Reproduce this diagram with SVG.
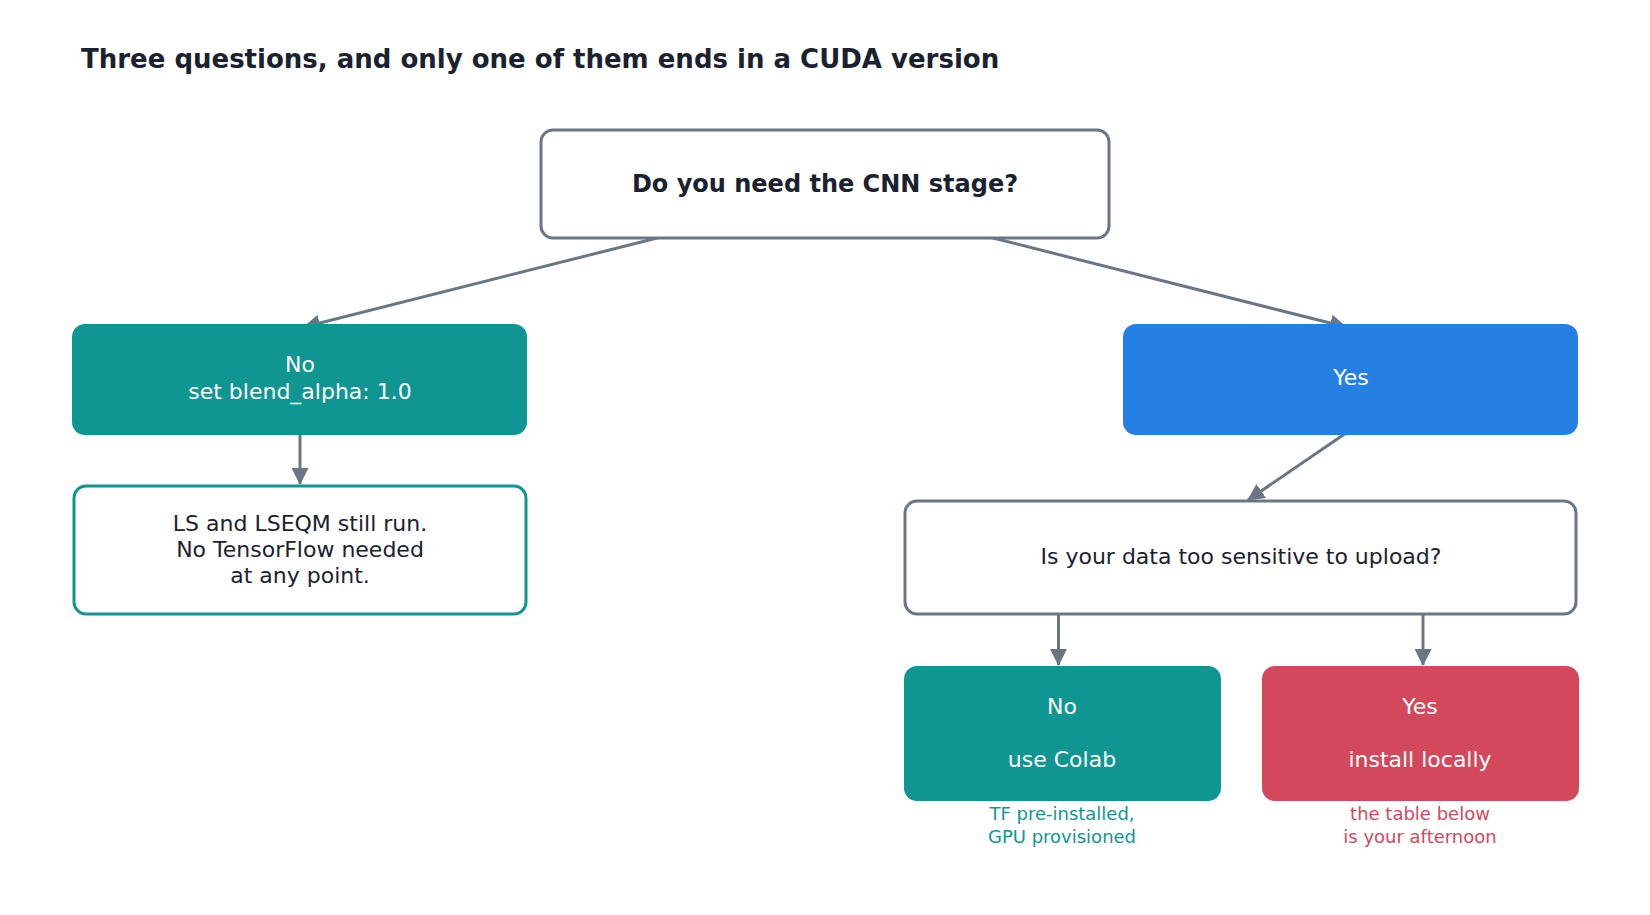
<svg xmlns="http://www.w3.org/2000/svg" width="1650" height="915" viewBox="0 0 1650 915">
<style>
text{font-family:"DejaVu Sans","Liberation Sans",sans-serif;text-anchor:middle}
.title{font-size:26px;font-weight:bold;fill:#1a2230;text-anchor:start}
.q{fill:#fff;stroke:#6b7684;stroke-width:3}
.dark{fill:#1a2230;font-size:22px}
.white{fill:#fff;font-size:22px}
.cap{font-size:18px}
.edge{stroke:#6b7684;stroke-width:3;fill:none;marker-end:url(#arr)}
</style>
<defs>
<marker id="arr" markerUnits="userSpaceOnUse" markerWidth="17" markerHeight="17" refX="16" refY="8.5" orient="auto" viewBox="0 0 17 17">
<path d="M0,0 L17,8.5 L0,17 Z" fill="#6b7684"/>
</marker>
</defs>
<rect width="1650" height="915" fill="#fff"/>
<text class="title" x="81" y="68">Three questions, and only one of them ends in a CUDA version</text>

<g id="edges">
<line class="edge" x1="661" y1="237" x2="304" y2="327"/>
<line class="edge" x1="989" y1="237" x2="1346" y2="327"/>
<line class="edge" x1="300" y1="435" x2="300" y2="484"/>
<line class="edge" x1="1346" y1="433" x2="1248" y2="500"/>
<line class="edge" x1="1058.5" y1="615" x2="1058.5" y2="665"/>
<line class="edge" x1="1423" y1="615" x2="1423" y2="665"/>
</g>

<g id="q1">
<rect class="q" x="541" y="130" width="568" height="108" rx="12"/>
<text x="825" y="192" style="font-size:24px;font-weight:bold;fill:#1a2230">Do you need the CNN stage?</text>
</g>

<g id="no1">
<rect x="72" y="324" width="455" height="111" rx="13" fill="#0f9692"/>
<text class="white" x="300" y="372">No</text>
<text class="white" x="300" y="399">set blend_alpha: 1.0</text>
</g>

<g id="ls">
<rect x="74" y="486" width="452" height="128" rx="12" fill="#fff" stroke="#0f9692" stroke-width="3"/>
<text class="dark" x="300" y="531">LS and LSEQM still run.</text>
<text class="dark" x="300" y="557">No TensorFlow needed</text>
<text class="dark" x="300" y="583">at any point.</text>
</g>

<g id="yes1">
<rect x="1123" y="324" width="455" height="111" rx="13" fill="#2680e3"/>
<text class="white" x="1351" y="385">Yes</text>
</g>

<g id="q2">
<rect class="q" x="905" y="501" width="671" height="113" rx="12"/>
<text class="dark" x="1241" y="564">Is your data too sensitive to upload?</text>
</g>

<g id="no2">
<rect x="904" y="666" width="317" height="135" rx="13" fill="#0f9692"/>
<text class="white" x="1062" y="714">No</text>
<text class="white" x="1062" y="767">use Colab</text>
<text class="cap" x="1062" y="820" fill="#0f9692">TF pre-installed,</text>
<text class="cap" x="1062" y="843" fill="#0f9692">GPU provisioned</text>
</g>

<g id="yes2">
<rect x="1262" y="666" width="317" height="135" rx="13" fill="#d3485b"/>
<text class="white" x="1420" y="714">Yes</text>
<text class="white" x="1420" y="767">install locally</text>
<text class="cap" x="1420" y="820" fill="#d3485b">the table below</text>
<text class="cap" x="1420" y="843" fill="#d3485b">is your afternoon</text>
</g>
</svg>
